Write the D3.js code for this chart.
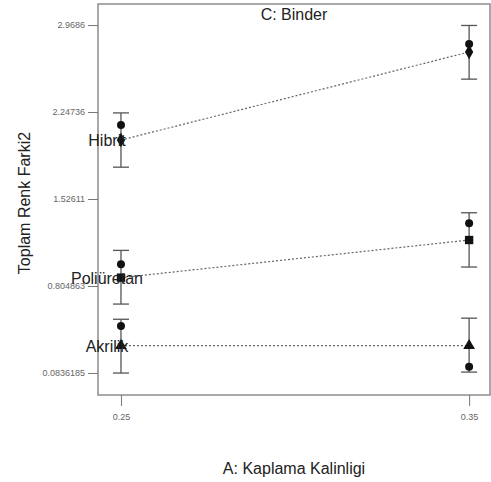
<!DOCTYPE html>
<html><head><meta charset="utf-8">
<script src="https://cdn.jsdelivr.net/npm/d3@7"></script>
<style>body{margin:0;background:#fff}svg{display:block;font-family:"Liberation Sans",Arial,sans-serif}</style>
</head><body>
<svg id="c" width="491" height="482"></svg>
<script>
const xLevels = [0.25, 0.35];
const xTickLabels = ["0.25", "0.35"];
const yTicks = [0.0836185, 0.804863, 1.52611, 2.24736, 2.9686];
const yTickLabels = ["0.0836185", "0.804863", "1.52611", "2.24736", "2.9686"];
const seriesNames = ["Hibrit", "Poliüretan", "Akrilik"];
const seriesShapes = ["diamond", "square", "triangle"];
const predHibrit = [2.015, 2.745];
const predPoliuretan = [0.874, 1.186];
const predAkrilik = [0.310, 0.310];
const errLowHibrit = [1.790, 2.520];
const errHighHibrit = [2.240, 2.965];
const errLowPoliuretan = [0.655, 0.962];
const errHighPoliuretan = [1.100, 1.412];
const errLowAkrilik = [0.083, 0.091];
const errHighAkrilik = [0.529, 0.538];
const obsHibrit = [2.139, 2.811];
const obsPoliuretan = [0.985, 1.325];
const obsAkrilik = [0.473, 0.136];

const W = 491, H = 482;
const m = {l: 98, t: 4, r: 1, b: 87};
const svg = d3.select("#c");
const x = d3.scaleLinear().domain([0.2434, 0.3560]).range([m.l, W - m.r]);
const y = d3.scaleLinear().domain([-0.099, 3.143]).range([H - m.b, m.t]);

const series = [
  {name: seriesNames[0], shape: seriesShapes[0], pred: predHibrit, lo: errLowHibrit, hi: errHighHibrit, obs: obsHibrit},
  {name: seriesNames[1], shape: seriesShapes[1], pred: predPoliuretan, lo: errLowPoliuretan, hi: errHighPoliuretan, obs: obsPoliuretan},
  {name: seriesNames[2], shape: seriesShapes[2], pred: predAkrilik, lo: errLowAkrilik, hi: errHighAkrilik, obs: obsAkrilik}
];

// frame
svg.append("rect").attr("x", m.l).attr("y", m.t)
  .attr("width", W - m.r - m.l).attr("height", H - m.b - m.t)
  .attr("fill", "none").attr("stroke", "#8c8c8c").attr("stroke-width", 1.5);

// y axis
const yAxis = d3.axisLeft(y).tickValues(yTicks).tickSize(10).tickPadding(3)
  .tickFormat((d, i) => yTickLabels[i]);
const gy = svg.append("g").attr("transform", `translate(${m.l},0)`).call(yAxis);
gy.select(".domain").remove();
gy.selectAll(".tick line").attr("stroke", "#777");
gy.selectAll(".tick text").attr("fill", "#666").attr("font-size", 9)
  .attr("font-family", "'Liberation Sans Narrow','Liberation Sans',Arial,sans-serif");

// x axis
const xAxis = d3.axisBottom(x).tickValues(xLevels).tickSize(11).tickPadding(8)
  .tickFormat((d, i) => xTickLabels[i]);
const gx = svg.append("g").attr("transform", `translate(0,${H - m.b})`).call(xAxis);
gx.select(".domain").remove();
gx.selectAll(".tick line").attr("stroke", "#777");
gx.selectAll(".tick text").attr("fill", "#666").attr("font-size", 9)
  .attr("font-family", "'Liberation Sans Narrow','Liberation Sans',Arial,sans-serif");

// lines
const line = d3.line().x((d, i) => x(xLevels[i])).y(d => y(d));
series.forEach(s => {
  svg.append("path").datum(s.pred).attr("d", line)
    .attr("fill", "none").attr("stroke", "#666").attr("stroke-width", 1.2)
    .attr("stroke-dasharray", "2,2");
});

// error bars
series.forEach(s => {
  xLevels.forEach((xv, i) => {
    const g = svg.append("g").attr("stroke", "#555").attr("stroke-width", 1.3);
    g.append("line").attr("x1", x(xv)).attr("x2", x(xv)).attr("y1", y(s.lo[i])).attr("y2", y(s.hi[i]));
    g.append("line").attr("x1", x(xv) - 8).attr("x2", x(xv) + 8).attr("y1", y(s.lo[i])).attr("y2", y(s.lo[i]));
    g.append("line").attr("x1", x(xv) - 8).attr("x2", x(xv) + 8).attr("y1", y(s.hi[i])).attr("y2", y(s.hi[i]));
  });
});

// observed points
series.forEach(s => {
  svg.selectAll(null).data(s.obs).enter().append("circle")
    .attr("cx", (d, i) => x(xLevels[i])).attr("cy", d => y(d)).attr("r", 4).attr("fill", "#111");
});

// predicted markers
const symMap = {diamond: d3.symbolDiamond, square: d3.symbolSquare, triangle: d3.symbolTriangle};
series.forEach(s => {
  svg.selectAll(null).data(s.pred).enter().append("path")
    .attr("d", d3.symbol().type(symMap[s.shape]).size(s.shape === "square" ? 70 : 60))
    .attr("transform", (d, i) => `translate(${x(xLevels[i])},${y(d)})`)
    .attr("fill", "#111");
});

// series labels
series.forEach(s => {
  svg.append("text").attr("x", x(xLevels[0]) - 14).attr("y", y(s.pred[0]) + 6)
    .attr("text-anchor", "middle").attr("font-size", 16).attr("fill", "#222").text(s.name);
});

// title
svg.append("text").attr("x", (m.l + W - m.r) / 2).attr("y", 20).attr("text-anchor", "middle")
  .attr("font-size", 16).attr("fill", "#222").text("C: Binder");

// axis titles
svg.append("text").attr("x", (m.l + W - m.r) / 2).attr("y", 474).attr("text-anchor", "middle")
  .attr("font-size", 16).attr("fill", "#222").text("A: Kaplama Kalinligi");
svg.append("text").attr("transform", `translate(30,203) rotate(-90)`).attr("text-anchor", "middle")
  .attr("font-size", 16).attr("fill", "#222").text("Toplam Renk Farki2");
</script>
</body></html>
